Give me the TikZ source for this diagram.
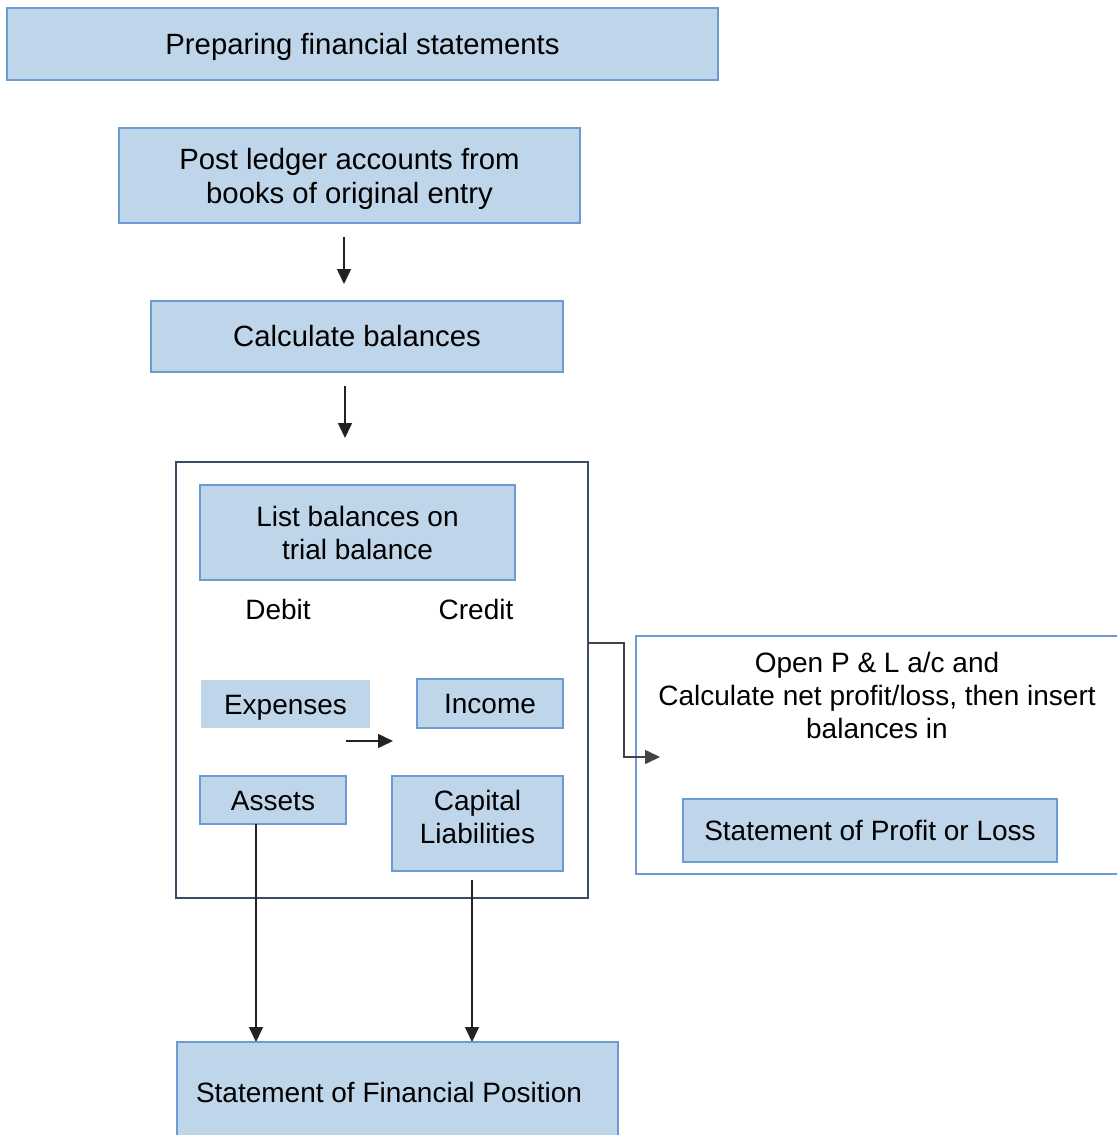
\documentclass[tikz,border=0pt]{standalone}
\usepackage{fontspec}
\setmainfont{Liberation Sans}
\usetikzlibrary{arrows.meta}
\definecolor{boxfill}{RGB}{190,213,234}
\definecolor{boxline}{RGB}{108,155,210}
\definecolor{frameline}{RGB}{62,76,99}
\definecolor{arrowcol}{RGB}{34,34,34}
\begin{document}
\begin{tikzpicture}[x=1pt,y=-1pt,
  every node/.style={font=\fontsize{28}{33}\selectfont, inner sep=0pt, outer sep=0pt, text depth=0pt},
  bigtext/.style={font=\fontsize{29.3}{34}\selectfont},
  oneline/.style={text height=20pt},
  bluebox/.style={draw=boxline, line width=2pt, fill=boxfill, align=center},
  plainfill/.style={fill=boxfill, align=center},
  framebox/.style={draw=frameline, line width=2pt},
  arr/.style={draw=arrowcol, line width=1.5pt, -{Triangle[length=15pt,width=14pt]}}
]
\useasboundingbox (0,0) rectangle (1117,1135);
\clip (0,0) rectangle (1117,1135);

% title
\node[bluebox, bigtext, oneline, minimum width=711pt, minimum height=72pt] (title) at (362.5,44) {Preparing financial statements};

% first steps
\node[bluebox, bigtext, minimum width=461pt, minimum height=95pt] (post) at (349.5,175.5) {Post ledger accounts from\\books of original entry};
\node[bluebox, bigtext, oneline, minimum width=412pt, minimum height=71pt] (calc) at (357,336.5) {Calculate balances};

% trial balance frame and its contents
\node[framebox, minimum width=412pt, minimum height=436pt] (frame) at (382,680) {};
\node[bluebox, minimum width=315pt, minimum height=95pt] (list) at (357.5,532.5) {List balances on\\trial balance};
\node[oneline] (debit) at (278,609) {Debit};
\node[oneline] (credit) at (476,609) {Credit};
\node[plainfill, oneline, minimum width=169pt, minimum height=48pt] (exp) at (285.5,704) {Expenses};
\node[bluebox, oneline, minimum width=146pt, minimum height=49pt] (inc) at (490,703.5) {Income};
\node[bluebox, oneline, minimum width=146pt, minimum height=48pt] (assets) at (273,800) {Assets};
\node[bluebox, text depth=13pt, minimum width=171pt, minimum height=95pt] (cap) at (477.5,823.5) {Capital\\Liabilities};

% financial position
\node[bluebox, minimum width=441pt, minimum height=100pt,
  label={[oneline, xshift=-8.5pt]center:Statement of Financial Position}] (fp) at (397.5,1092) {};

% profit and loss panel
\node[draw=boxline, line width=2pt, fill=white, minimum width=494pt, minimum height=238pt] (pl) at (883,755) {};
\node[align=center] (pltext) at (877,695) {Open P \& L a/c and\\Calculate net profit/loss, then insert\\balances in};
\node[bluebox, oneline, minimum width=374pt, minimum height=63pt] (spl) at (870,830.5) {Statement of Profit or Loss};

% connectors
\draw[arr, shorten <=14pt, shorten >=17pt] ([xshift=-5.5pt]post.south) -- ([xshift=-5.5pt]post.south |- calc.north);
\draw[arr, shorten <=14pt, shorten >=24pt] ([xshift=-12pt]calc.south) -- ([xshift=-12pt]calc.south |- frame.north);
\coordinate (m1) at (346,741);
\coordinate (m2) at (393,741);
\draw[arr] (m1) -- (m2);
\draw[arr] ([xshift=-17pt]assets.south) -- ([xshift=-17pt]assets.south |- fp.north);
\draw[arr, shorten <=9pt] ([xshift=-5.5pt]cap.south) -- ([xshift=-5.5pt]cap.south |- fp.north);
\coordinate (bend) at (624,643);
\coordinate (plin) at (660,757);
\draw[arr, draw=arrowcol!85] ([yshift=37pt]frame.east) -- (bend) |- (plin);
\end{tikzpicture}
\end{document}
